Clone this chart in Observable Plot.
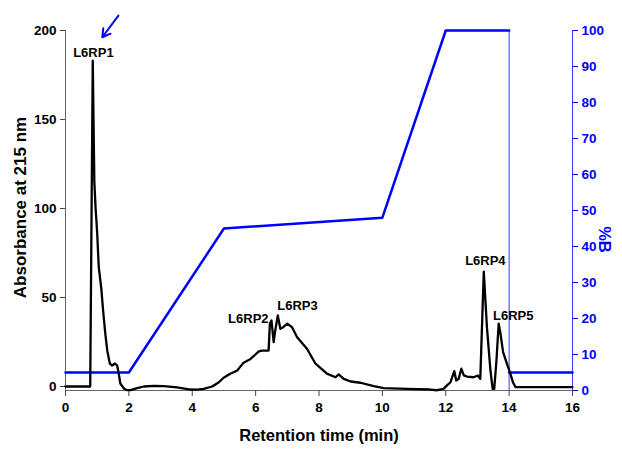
<!DOCTYPE html>
<html>
<head>
<meta charset="utf-8">
<script src="https://cdn.jsdelivr.net/npm/d3@7"></script>
<script src="https://cdn.jsdelivr.net/npm/@observablehq/plot@0.6"></script>
<style>
  html, body { margin: 0; padding: 0; background: #fff; }
  #chart svg { font-family: "Liberation Sans", Arial, sans-serif; font-weight: bold; }
</style>
</head>
<body>
<div id="chart"></div>
<script>
// Chromatogram (retention time in min, absorbance at 215 nm)
const time = [0, 0.78, 0.86, 0.91, 0.95, 0.98, 1.0, 1.05, 1.13, 1.19, 1.26, 1.32, 1.40, 1.47, 1.56, 1.63, 1.68, 1.73, 1.84, 1.93,
  2.05, 2.26, 2.47, 2.79, 3.10, 3.52, 3.94, 4.15, 4.36, 4.63, 4.84, 4.99, 5.2, 5.42, 5.62, 5.84, 6.1, 6.2, 6.41, 6.45, 6.5,
  6.57, 6.62, 6.70, 6.78, 6.87, 7.0, 7.15, 7.31, 7.62, 7.89, 8.25, 8.52, 8.62, 8.78, 9.0, 9.31, 9.73, 10.04, 10.78, 11.5,
  11.73, 11.93, 12.04, 12.15, 12.27, 12.33, 12.41, 12.49, 12.57, 12.67, 12.88, 13.01, 13.09, 13.2, 13.3, 13.41, 13.48, 13.53,
  13.6, 13.67, 13.72, 13.81, 13.93, 14.04, 14.12, 14.2, 16];
const absorbance = [0, 0, 183, 115, 100, 92, 86, 67, 55, 42, 29, 20, 12.8, 11.8, 12.9, 11.8, 7.3, 1.7, -1.1, -2,
  -2, -0.9, 0, 0.4, 0.2, -0.5, -1.7, -1.8, -1.3, 0, 2.4, 4.9, 7.2, 9, 13.4, 15.5, 19.7, 20.2, 20.2, 35.3, 37.1,
  24.9, 31.5, 39.9, 32.4, 33.3, 35.3, 33.3, 27.7, 21.2, 12.8, 7.2, 5.2, 6.8, 4.3, 2.8, 2.1, 0.2, -0.9, -1.3, -1.7,
  -2.1, -1.3, 0.6, 2.4, 8.6, 3.4, 4.3, 10, 6.2, 5.6, 5.2, 6.2, 4.3, 64.5, 33.3, 9, -1.3, -1.3,
  14.6, 35.3, 30.5, 19.3, 12.8, 7.2, 2.4, -0.3, -0.3];

// Gradient (%B)
const gradTime = [0, 2, 5, 10, 12, 14, 14, 16];
const gradB = [5, 5, 45, 48, 100, 100, 5, 5];
const gradSegment = ["main", "main", "main", "main", "main", "main", "tail", "tail"];

// Peak labels
const peakLabels = ["L6RP1", "L6RP2", "L6RP3", "L6RP4", "L6RP5"];
const peakTime = [0.88, 5.77, 7.32, 13.25, 14.13];
const peakAbs = [187.6, 38.2, 45.5, 70.8, 39.9];

// Arrow marking the first peak
const arrowFrom = [1.67, 208.4];
const arrowTo = [1.16, 196.2];

const xTicks = d3.range(0, 17, 2);
const yTicks = [0, 50, 100, 150, 200];
const bTicks = d3.range(0, 101, 10);

const yMin = -2.25, yMax = 200;
const toY = b => yMin + b * (yMax - yMin) / 100;
const fromY = y => Math.round((y - yMin) * 100 / (yMax - yMin));

const chroma = time.map((t, i) => ({t, v: absorbance[i]}));
const grad = gradTime.map((t, i) => ({t, y: toY(gradB[i]), seg: gradSegment[i]}));
const peaks = peakLabels.map((label, i) => ({label, t: peakTime[i], v: peakAbs[i]}));

const blue = "#0000ff";

const chart = Plot.plot({
  width: 622,
  height: 450,
  marginLeft: 65,
  marginRight: 50,
  marginTop: 30,
  marginBottom: 60,
  style: {fontFamily: "Liberation Sans, Arial, sans-serif", fontWeight: "bold", color: "black", background: "white"},
  x: {domain: [0, 16]},
  y: {domain: [yMin, yMax]},
  marks: [
    // axis lines
    Plot.ruleX([0], {y1: yMin, y2: yMax, stroke: "#666", strokeWidth: 1}),
    Plot.ruleY([yMin], {x1: 0, x2: 16, stroke: "#666", strokeWidth: 1}),
    Plot.ruleX([16], {y1: yMin - 1.5, y2: yMax, stroke: "#3a3aff", strokeWidth: 1}),
    // axes
    Plot.axisX({ticks: xTicks, tickSize: 6, tickPadding: 6, fontSize: 13.5, label: null, stroke: "#444"}),
    Plot.axisY({ticks: yTicks, tickSize: 5, tickPadding: 4, fontSize: 13.5, label: null, stroke: "#444"}),
    Plot.axisY(bTicks.map(toY), {anchor: "right", tickSize: 5, tickPadding: 4, fontSize: 13.5, label: null,
      tickFormat: fromY, color: blue}),
    // drop line at 14 min
    Plot.ruleX([14], {y1: yMin, y2: toY(100), stroke: "#3a3aff", strokeWidth: 1}),
    // gradient
    Plot.line(grad, {x: "t", y: "y", z: "seg", stroke: blue, strokeWidth: 2.5}),
    // chromatogram
    Plot.line(chroma, {x: "t", y: "v", stroke: "black", strokeWidth: 2.3, strokeLinejoin: "round"}),
    // peak labels
    Plot.text(peaks, {x: "t", y: "v", text: "label", fontSize: 13, fontWeight: "bold", fill: "black"}),
    // arrow
    Plot.arrow([{x1: arrowFrom[0], y1: arrowFrom[1], x2: arrowTo[0], y2: arrowTo[1]}],
      {x1: "x1", y1: "y1", x2: "x2", y2: "y2", stroke: blue, strokeWidth: 2, headLength: 9}),
    // axis titles
    Plot.text(["Absorbance at 215 nm"], {frameAnchor: "left", textAnchor: "middle", rotate: -90, dx: -45, dy: -3,
      fontSize: 17, fontWeight: "bold", fill: "black"}),
    Plot.text(["%B"], {frameAnchor: "right", textAnchor: "middle", rotate: 90, dx: 32, dy: 29,
      fontSize: 16.5, fontWeight: "bold", fill: blue}),
    Plot.text(["Retention time (min)"], {frameAnchor: "bottom", dy: 50, fontSize: 16.5, fontWeight: "bold", fill: "black"})
  ]
});
document.getElementById("chart").appendChild(chart);
</script>
</body>
</html>
